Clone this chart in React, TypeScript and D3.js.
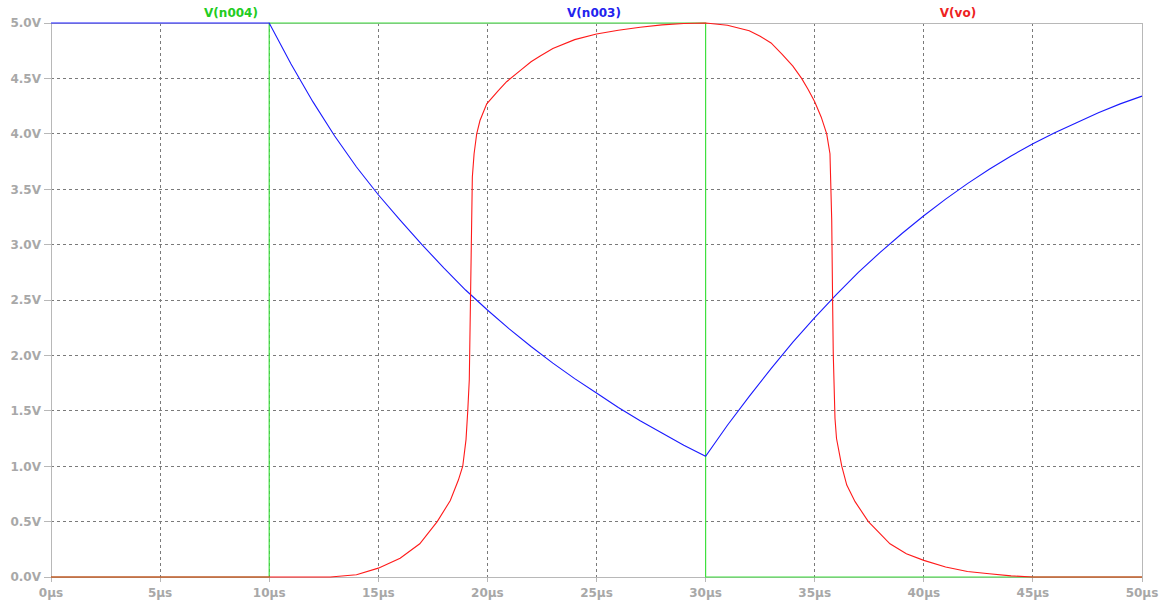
import React from "react";
import * as d3 from "d3";

const xTicks = [0, 5, 10, 15, 20, 25, 30, 35, 40, 45, 50];
const yTicks = [0, 0.5, 1, 1.5, 2, 2.5, 3, 3.5, 4, 4.5, 5];

const n004T = [0, 10, 10, 30, 30, 50];
const n004V = [0, 0, 5, 5, 0, 0];

const n003T = [0, 10, 11, 12, 13, 14, 15, 16, 17, 18, 19, 20, 21, 22, 23, 24, 25, 26, 27, 28, 29, 30, 31, 32, 33, 34, 35, 36, 37, 38, 39, 40, 41, 42, 43, 44, 45, 46, 47, 48, 49, 50];
const n003V = [5, 5, 4.63, 4.29, 3.98, 3.7, 3.45, 3.22, 3.0, 2.79, 2.59, 2.41, 2.24, 2.08, 1.93, 1.79, 1.66, 1.53, 1.41, 1.3, 1.19, 1.09, 1.37, 1.63, 1.88, 2.12, 2.34, 2.55, 2.75, 2.93, 3.1, 3.26, 3.41, 3.55, 3.68, 3.8, 3.91, 4.01, 4.1, 4.19, 4.27, 4.34];

const voT = [0, 12.8, 14, 15, 16, 16.9, 17.7, 18.3, 18.67, 18.87, 19.02, 19.1, 19.17, 19.28, 19.31, 19.39, 19.51, 19.66, 19.97, 20.5, 20.88, 21.5, 22, 22.4, 23, 24, 25, 26, 27, 28, 29, 30, 31, 32, 32.5, 33, 33.5, 34, 34.4, 34.7, 35, 35.3, 35.55, 35.7, 35.78, 35.82, 35.85, 35.93, 36.0, 36.24, 36.47, 36.85, 37.46, 38.45, 39.2, 40, 41, 42, 43, 44, 45, 50];
const voV = [0, 0, 0.02, 0.08, 0.17, 0.3, 0.5, 0.69, 0.875, 1.0, 1.24, 1.5, 1.78, 3.22, 3.61, 3.82, 4.0, 4.12, 4.27, 4.39, 4.47, 4.57, 4.65, 4.7, 4.77, 4.85, 4.9, 4.935, 4.962, 4.983, 4.995, 5.0, 4.98, 4.93, 4.88, 4.82, 4.72, 4.61, 4.5, 4.4, 4.29, 4.15, 4.0, 3.82, 3.22, 2.5, 2.02, 1.43, 1.25, 1.0, 0.83, 0.68, 0.5, 0.3, 0.21, 0.15, 0.09, 0.05, 0.03, 0.01, 0.0, 0.0];

const seriesNames = ["V(n004)", "V(n003)", "V(vo)"];

const W = 1166;
const H = 603;
const L = 51, R = 1142, T = 23, B = 577;

export default function App() {
  const x = d3.scaleLinear().domain([0, 50]).range([L, R]);
  const y = d3.scaleLinear().domain([0, 5]).range([B, T]);
  const zip = (ts: number[], vs: number[]) => ts.map((t, i) => [t, vs[i]] as [number, number]);
  const lin = d3.line<[number, number]>().x(d => x(d[0])).y(d => y(d[1]));
  const font = "'DejaVu Sans', Verdana, sans-serif";
  const axisColor = "#a8a8a8";
  return (
    <svg width={W} height={H} style={{ position: "absolute", left: 0, top: 0, background: "#ffffff" }}>
      {xTicks.slice(1, -1).map(t => (
        <line key={"gx" + t} x1={x(t)} x2={x(t)} y1={T} y2={B} stroke="#7a7a7a" strokeDasharray="3,3" strokeWidth={1} shapeRendering="crispEdges" />
      ))}
      {yTicks.slice(1, -1).map(v => (
        <line key={"gy" + v} x1={L} x2={R} y1={y(v)} y2={y(v)} stroke="#7a7a7a" strokeDasharray="3,3" strokeWidth={1} shapeRendering="crispEdges" />
      ))}
      <rect x={L} y={T} width={R - L} height={B - T} fill="none" stroke="#b8b8b8" strokeWidth={1} shapeRendering="crispEdges" />
      {yTicks.map(v => (
        <g key={"ty" + v}>
          <line x1={L - 7} x2={L} y1={y(v)} y2={y(v)} stroke="#b8b8b8" shapeRendering="crispEdges" />
          <text x={L - 10} y={y(v)} dy="0.36em" textAnchor="end" fontFamily={font} fontWeight="bold" fontSize={12} fill={axisColor}>
            {v.toFixed(1) + "V"}
          </text>
        </g>
      ))}
      {xTicks.map(t => (
        <g key={"tx" + t}>
          <line x1={x(t)} x2={x(t)} y1={B} y2={B + 5} stroke="#b8b8b8" shapeRendering="crispEdges" />
          <text x={x(t)} y={597} textAnchor="middle" fontFamily={font} fontWeight="bold" fontSize={12} fill={axisColor}>
            {t + "µs"}
          </text>
        </g>
      ))}
      <path d={lin(zip(n004T, n004V)) || ""} fill="none" stroke="#3fe03f" strokeWidth={1.2} />
      <path d={lin(zip(n003T, n003V)) || ""} fill="none" stroke="#1a1aff" strokeWidth={1.1} />
      <path d={lin(zip(voT, voV)) || ""} fill="none" stroke="#ff1a1a" strokeWidth={1.1} />
      <text x={231} y={17} textAnchor="middle" fontFamily={font} fontWeight="bold" fontSize={12} fill="#22cc22">{seriesNames[0]}</text>
      <text x={594} y={17} textAnchor="middle" fontFamily={font} fontWeight="bold" fontSize={12} fill="#2222ee">{seriesNames[1]}</text>
      <text x={958} y={17} textAnchor="middle" fontFamily={font} fontWeight="bold" fontSize={12} fill="#ee2222">{seriesNames[2]}</text>
    </svg>
  );
}
